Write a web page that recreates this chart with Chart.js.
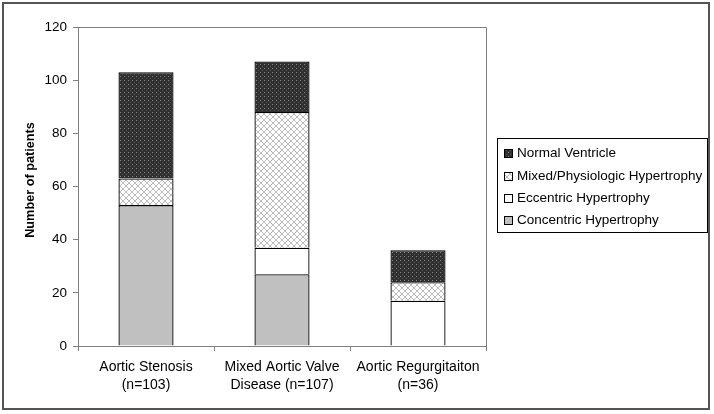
<!DOCTYPE html>
<html lang="en">
<head>
    <meta charset="UTF-8">
    <title>Left Ventricular Geometry</title>
    <script src="https://cdn.jsdelivr.net/npm/chart.js"></script>
    <style>
        html, body { margin: 0; padding: 0; background: #fff; }
        #wrap { width: 714px; height: 414px; position: relative; }
    </style>
</head>
<body>
    <div id="wrap"><canvas id="lvChart" width="714" height="414"></canvas></div>

    <script>
        // values
        const categories = [
            ['Aortic Stenosis', '(n=103)'],
            ['Mixed Aortic Valve', 'Disease (n=107)'],
            ['Aortic Regurgitaiton', '(n=36)']
        ];
        const concentric = [53, 27, 0];
        const eccentric = [0, 10, 17];
        const mixedPhys = [10, 51, 7];
        const normalVent = [40, 19, 12];
        const yTicks = [0, 20, 40, 60, 80, 100, 120];

        const FONT = 'Liberation Sans, Arial, sans-serif';

        function makePattern(size, draw) {
            const c = document.createElement('canvas');
            c.width = size; c.height = size;
            const g = c.getContext('2d');
            draw(g, size);
            return g.createPattern(c, 'repeat');
        }

        // dark fill with light dots
        const dotPattern = makePattern(4, (g, s) => {
            g.fillStyle = '#303030';
            g.fillRect(0, 0, s, s);
            g.fillStyle = '#8a8a8a';
            g.fillRect(0, 0, 1, 1);
            g.fillStyle = '#5a5a5a';
            g.fillRect(2, 2, 1, 1);
        });

        // white with grey cross-hatch
        const hatchPattern = makePattern(6, (g, s) => {
            g.fillStyle = '#ffffff';
            g.fillRect(0, 0, s, s);
            g.strokeStyle = '#bdbdbd';
            g.lineWidth = 1;
            g.beginPath();
            g.moveTo(0, 0); g.lineTo(s, s);
            g.moveTo(s, 0); g.lineTo(0, s);
            g.stroke();
        });

        // frame round the whole picture, plot border, y title and the boxed legend
        const framePlugin = {
            id: 'frame',
            afterDraw(chart) {
                const ctx = chart.ctx;
                const a = chart.chartArea;
                ctx.save();
                ctx.strokeStyle = '#808080';
                ctx.lineWidth = 1;
                ctx.beginPath();
                ctx.moveTo(a.left, a.top + 0.5);
                ctx.lineTo(a.right + 0.5, a.top + 0.5);
                ctx.lineTo(a.right + 0.5, a.bottom);
                ctx.stroke();

                ctx.strokeStyle = '#555';
                ctx.lineWidth = 2;
                ctx.strokeRect(3, 3, 706, 406);

                // y axis title, sits a little above the plot centre as in the original
                ctx.save();
                ctx.translate(30, 180);
                ctx.rotate(-Math.PI / 2);
                ctx.font = 'bold 12.7px ' + FONT;
                ctx.fillStyle = '#000';
                ctx.textAlign = 'center';
                ctx.textBaseline = 'middle';
                ctx.fillText('Number of patients', 0, 0);
                ctx.restore();

                // legend, top of stack first
                const lx = 497, ly = 138, lw = 210, lh = 94;
                ctx.strokeStyle = '#000';
                ctx.lineWidth = 1;
                ctx.strokeRect(lx + 0.5, ly + 0.5, lw, lh);
                ctx.font = '13.5px ' + FONT;
                ctx.textBaseline = 'middle';
                const rows = [153, 176, 198, 220];
                const order = chart.data.datasets.slice().reverse();
                order.forEach((ds, i) => {
                    const y = rows[i];
                    ctx.fillStyle = ds.backgroundColor;
                    ctx.fillRect(504, y - 4, 8, 8);
                    ctx.strokeStyle = '#000';
                    ctx.strokeRect(504.5, y - 3.5, 8, 8);
                    ctx.fillStyle = '#000';
                    ctx.fillText(ds.label, 517, y);
                });
                ctx.restore();
            }
        };

        const barOpts = { borderColor: '#000', borderWidth: 1.3, barPercentage: 0.405, categoryPercentage: 1 };

        new Chart(document.getElementById('lvChart'), {
            type: 'bar',
            data: {
                labels: categories,
                datasets: [
                    { label: 'Concentric Hypertrophy', data: concentric, backgroundColor: '#c0c0c0', ...barOpts },
                    { label: 'Eccentric Hypertrophy', data: eccentric, backgroundColor: '#ffffff', ...barOpts },
                    { label: 'Mixed/Physiologic Hypertrophy', data: mixedPhys, backgroundColor: hatchPattern, ...barOpts },
                    { label: 'Normal Ventricle', data: normalVent, backgroundColor: dotPattern, ...barOpts }
                ]
            },
            options: {
                responsive: false,
                animation: false,
                layout: { padding: { top: 27, right: 228, left: 0, bottom: 0 } },
                plugins: {
                    legend: { display: false },
                    tooltip: { enabled: false }
                },
                scales: {
                    x: {
                        stacked: true,
                        border: { color: '#808080', width: 1 },
                        grid: { drawOnChartArea: false, drawTicks: true, tickLength: 5, color: '#808080', offset: true },
                        ticks: { color: '#000', padding: 7, font: { family: FONT, size: 14, lineHeight: 1.3 } },
                        afterFit(scale) { scale.height = 68; }
                    },
                    y: {
                        stacked: true,
                        min: 0,
                        max: 120,
                        afterBuildTicks(scale) { scale.ticks = yTicks.map(v => ({ value: v })); },
                        border: { color: '#808080', width: 1 },
                        grid: { drawOnChartArea: false, drawTicks: true, tickLength: 5, color: '#808080' },
                        ticks: { color: '#000', padding: 6, font: { family: FONT, size: 13.5 } },
                        afterFit(scale) { scale.width = 78; }
                    }
                }
            },
            plugins: [framePlugin]
        });
    </script>
</body>
</html>
